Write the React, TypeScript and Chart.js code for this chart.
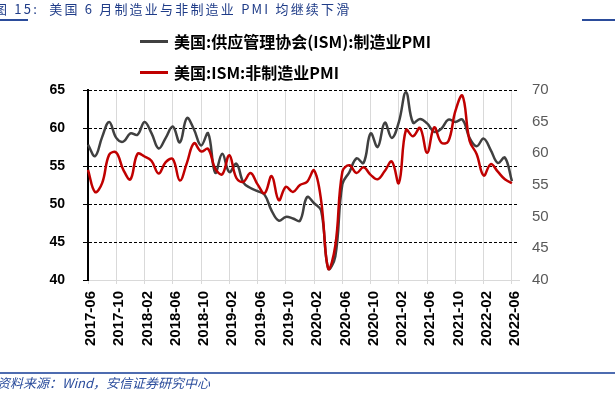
import React, { useEffect, useRef } from 'react';
import { Chart, registerables } from 'chart.js';

Chart.register(...registerables);

// ---- Data ----
const START_YEAR = 2017;
const START_MONTH = 6;
const MONTH_COUNT = 61; // 2017-06 .. 2022-06

const MONTHS: string[] = [];
for (let i = 0; i < MONTH_COUNT; i++) {
  const t = START_MONTH - 1 + i;
  const y = START_YEAR + Math.floor(t / 12);
  const m = (t % 12) + 1;
  MONTHS.push(`${y}-${String(m).padStart(2, '0')}`);
}
// one empty trailing slot: the plot area runs a little past the last month
const CATEGORIES: string[] = [...MONTHS, ''];

const TICK_LABELS: string[] = [
  '2017-06', '2017-10', '2018-02', '2018-06', '2018-10', '2019-02', '2019-06', '2019-10',
  '2020-02', '2020-06', '2020-10', '2021-02', '2021-06', '2021-10', '2022-02', '2022-06',
];

const SERIES_MFG_NAME = '美国:供应管理协会(ISM):制造业PMI';
const SERIES_NONMFG_NAME = '美国:ISM:非制造业PMI';

// ISM manufacturing PMI (left axis)
const MFG: number[] = [
  57.8, 56.3, 58.8, 60.8, 58.7, 58.2, 59.3,
  59.1, 60.8, 59.3, 57.3, 58.7, 60.2, 58.1, 61.3, 59.8, 57.7, 59.3, 54.1,
  56.6, 54.2, 55.3, 52.8, 52.1, 51.7, 51.2, 49.1, 47.8, 48.3, 48.1, 47.8,
  50.9, 50.1, 49.1, 41.5, 43.1, 52.6, 54.2, 56.0, 55.4, 59.3, 57.5, 60.7,
  58.7, 60.8, 64.7, 60.7, 61.2, 60.6, 59.5, 59.9, 61.1, 60.8, 61.1, 58.7,
  57.6, 58.6, 57.1, 55.4, 56.1, 53.0,
];

// ISM non-manufacturing PMI (right axis)
const NONMFG: number[] = [
  57.4, 53.9, 55.3, 59.8, 60.1, 57.4, 55.9,
  59.9, 59.5, 58.8, 56.8, 58.6, 59.1, 55.7, 58.5, 61.6, 60.3, 60.7, 57.6,
  56.7, 59.7, 56.1, 55.5, 56.9, 55.1, 53.7, 56.4, 52.6, 54.7, 53.9, 55.0,
  55.5, 57.3, 52.5, 41.8, 45.4, 57.1, 58.1, 56.9, 57.8, 56.6, 55.9, 57.2,
  58.7, 55.3, 63.7, 62.7, 64.0, 60.1, 64.1, 61.7, 61.9, 66.7, 69.1, 62.0,
  59.9, 56.5, 58.3, 57.1, 55.9, 55.3,
];

const LEFT_MIN = 40, LEFT_MAX = 65, RIGHT_MIN = 40, RIGHT_MAX = 70, STEP = 5;

const TITLE = '图 15:  美国 6 月制造业与非制造业 PMI 均继续下滑';
const SOURCE = '资料来源：Wind，安信证券研究中心';

const GRAY = '#404040';
const RED = '#C00000';

const isTickIndex = (i: number) => TICK_LABELS.includes(CATEGORIES[i]);

export default function App() {
  const ref = useRef<HTMLCanvasElement | null>(null);

  useEffect(() => {
    if (!ref.current) return;
    Chart.defaults.font.family = "'Liberation Sans', Arial, sans-serif";
    const chart = new Chart(ref.current, {
      type: 'line',
      data: {
        labels: CATEGORIES,
        datasets: [
          {
            label: SERIES_MFG_NAME,
            data: MFG,
            borderColor: GRAY,
            backgroundColor: GRAY,
            borderWidth: 2.5,
            pointRadius: 0,
            tension: 0.4,
            yAxisID: 'y',
            order: 2,
          },
          {
            label: SERIES_NONMFG_NAME,
            data: NONMFG,
            borderColor: RED,
            backgroundColor: RED,
            borderWidth: 2.5,
            pointRadius: 0,
            tension: 0.4,
            yAxisID: 'y1',
            order: 1,
          },
        ],
      },
      options: {
        responsive: false,
        animation: false,
        devicePixelRatio: 1,
        layout: { padding: { top: 90, left: 0, right: 0, bottom: 0 } },
        plugins: {
          legend: { display: false },
          title: { display: false },
          tooltip: { enabled: false },
        },
        scales: {
          x: {
            type: 'category',
            offset: false,
            border: { display: true, color: '#D9D9D9', width: 1 },
            grid: {
              color: (c: any) => (isTickIndex(c.index) && c.index > 0 ? '#D9D9D9' : 'rgba(0,0,0,0)'),
              tickColor: (c: any) => (isTickIndex(c.index) ? '#D9D9D9' : 'rgba(0,0,0,0)'),
              lineWidth: 1,
              drawTicks: true,
              tickLength: 4,
            },
            ticks: {
              autoSkip: false,
              maxRotation: 90,
              minRotation: 90,
              padding: 7,
              labelOffset: 3,
              color: '#000000',
              font: { size: 15, weight: 'bold' },
              callback: (_v: any, i: number) => (isTickIndex(i) ? CATEGORIES[i] : ''),
            },
            afterFit: (s: any) => { s.height = 116; },
          },
          y: {
            position: 'left',
            min: LEFT_MIN,
            max: LEFT_MAX,
            border: { display: true, color: '#000000', width: 2, dash: [3, 2] },
            grid: {
              color: (c: any) => (c.tick && c.tick.value === LEFT_MIN ? 'rgba(0,0,0,0)' : '#000000'),
              tickColor: '#000000',
              lineWidth: 1,
              drawTicks: true,
              tickLength: 5,
              tickBorderDash: [],
            },
            ticks: {
              stepSize: STEP,
              padding: 18,
              color: '#000000',
              font: { size: 14, weight: 'bold' },
            },
            afterFit: (s: any) => { s.width = 88; },
          },
          y1: {
            position: 'right',
            min: RIGHT_MIN,
            max: RIGHT_MAX,
            border: { display: false },
            grid: { display: false, drawTicks: false, drawOnChartArea: false },
            ticks: {
              stepSize: STEP,
              padding: 13,
              color: '#595959',
              font: { size: 15 },
            },
            afterFit: (s: any) => { s.width = 96; },
          },
        },
      },
    } as any);
    return () => chart.destroy();
  }, []);

  const cjk = "'Noto Sans CJK SC', 'Noto Sans', sans-serif";

  return (
    <div style={{ position: 'fixed', left: 0, top: 0, width: 615, height: 396, background: '#ffffff', overflow: 'hidden' }}>
      <canvas ref={ref} width={615} height={396} style={{ position: 'absolute', left: 0, top: 0 }} />
      {/* title */}
      <div style={{ position: 'absolute', left: -6, top: 0, height: 17, lineHeight: '17px', fontFamily: cjk, fontSize: 13, color: '#1F3C88', letterSpacing: 2.2, whiteSpace: 'pre' }}>
        {TITLE}
      </div>
      <div style={{ position: 'absolute', left: 0, top: 19, width: 28, height: 2, background: '#2B4C9B' }} />
      <div style={{ position: 'absolute', left: 582, top: 19, width: 33, height: 2, background: '#2B4C9B' }} />
      {/* legend */}
      <div style={{ position: 'absolute', left: 140, top: 40, width: 28, height: 3, background: GRAY }} />
      <div style={{ position: 'absolute', left: 174, top: 29, height: 24, lineHeight: '24px', fontFamily: cjk, fontSize: 16, fontWeight: 'bold', color: '#000', whiteSpace: 'pre' }}>
        {SERIES_MFG_NAME}
      </div>
      <div style={{ position: 'absolute', left: 140, top: 71, width: 28, height: 3, background: RED }} />
      <div style={{ position: 'absolute', left: 174, top: 60, height: 24, lineHeight: '24px', fontFamily: cjk, fontSize: 16, fontWeight: 'bold', color: '#000', whiteSpace: 'pre' }}>
        {SERIES_NONMFG_NAME}
      </div>
      {/* footer */}
      <div style={{ position: 'absolute', left: 0, top: 372, width: 615, height: 2, background: '#4E6CB0' }} />
      <div style={{ position: 'absolute', left: -3, top: 374, height: 17, lineHeight: '17px', fontFamily: cjk, fontSize: 13, fontStyle: 'italic', color: '#2A4C9C', whiteSpace: 'pre' }}>
        {SOURCE}
      </div>
    </div>
  );
}
